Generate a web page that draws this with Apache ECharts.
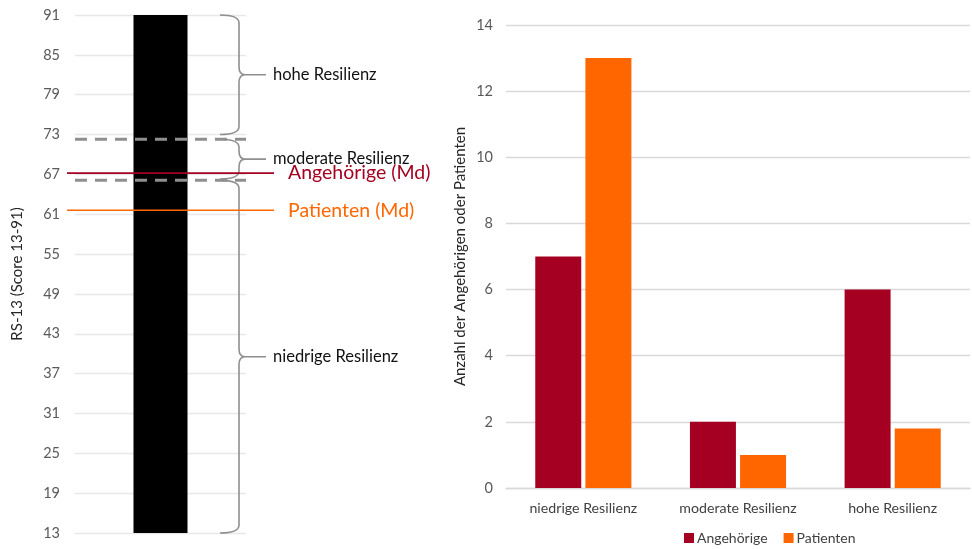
<!DOCTYPE html>
<html>
<head>
<meta charset="utf-8">
<script src="https://cdn.jsdelivr.net/npm/echarts@6/dist/echarts.min.js"></script>
<style>
  html, body { margin: 0; padding: 0; background: #fff; }
  #chart { width: 972px; height: 549px; }
</style>
</head>
<body>
<div id="chart"></div>
<script>
// RS-13 scale (left panel)
const scoreMin = 13;
const scoreMax = 91;
const scoreStep = 6;
const scoreBar = [91];

// resilience zones: label, upper and lower score of each brace
const zoneNames = ['hohe Resilienz', 'moderate Resilienz', 'niedrige Resilienz'];
const zoneUpper = [91, 72.3, 66.1];
const zoneLower = [73, 66.3, 13];

// dashed zone boundaries
const zoneBounds = [72.3, 66.1];

// group medians
const medianNames = ['Angehörige (Md)', 'Patienten (Md)'];
const medianValues = [67.2, 61.6];

// counts per resilience group (right panel)
const categories = ['niedrige Resilienz', 'moderate Resilienz', 'hohe Resilienz'];
const angehoerige = [7, 2, 6];
const patienten = [13, 1, 1.8];
const countMax = 14;
const countStep = 2;

const RED = '#A50021';
const ORANGE = '#FF6600';
const medianColors = [RED, ORANGE];
const FONT = 'Lato, "Open Sans", sans-serif';

const chart = echarts.init(document.getElementById('chart'));

function boundItem(params, api) {
  const cs = params.coordSys;
  const y = api.coord([0, api.value(1)])[1];
  return {
    type: 'line',
    shape: { x1: cs.x, y1: y, x2: cs.x + cs.width, y2: y },
    style: { stroke: '#8f8f8f', lineWidth: 3, lineDash: [12, 8] }
  };
}

function medianItem(params, api) {
  const cs = params.coordSys;
  const right = cs.x + cs.width;
  const y = api.coord([0, api.value(1)])[1];
  const c = medianColors[params.dataIndex];
  return {
    type: 'group',
    children: [
      {
        type: 'line',
        shape: { x1: cs.x - 8, y1: y, x2: right + 28, y2: y },
        style: { stroke: c, lineWidth: 1.7 }
      },
      {
        type: 'text',
        x: right + 42, y: y,
        style: {
          text: medianNames[params.dataIndex], fill: c,
          font: '19.5px ' + FONT, align: 'left', verticalAlign: 'middle'
        }
      }
    ]
  };
}

function braceItem(params, api) {
  const cs = params.coordSys;
  const right = cs.x + cs.width;
  const yTop = api.coord([0, api.value(1)])[1];
  const yBot = api.coord([0, api.value(2)])[1];
  const ym = (yTop + yBot) / 2;
  const x0 = right - 26;
  const xs = right - 7;
  const xt = right - 1;
  const r = Math.min(8, (yBot - yTop) / 4);
  const d =
    `M${x0},${yTop} Q${xs},${yTop} ${xs},${yTop + r} ` +
    `L${xs},${ym - r} Q${xs},${ym} ${xt},${ym} ` +
    `Q${xs},${ym} ${xs},${ym + r} ` +
    `L${xs},${yBot - r} Q${xs},${yBot} ${x0},${yBot} ` +
    `M${xt},${ym} L${right + 20},${ym}`;
  return {
    type: 'group',
    children: [
      {
        type: 'path',
        shape: { pathData: d },
        style: { stroke: '#8f8f8f', fill: null, lineWidth: 1.6 }
      },
      {
        type: 'text',
        x: right + 27, y: ym,
        style: {
          text: zoneNames[params.dataIndex], fill: '#111',
          font: '16.5px ' + FONT, align: 'left', verticalAlign: 'middle'
        }
      }
    ]
  };
}

const option = {
  animation: false,
  backgroundColor: '#fff',
  textStyle: { fontFamily: FONT },
  grid: [
    { left: 75, width: 171, top: 15, bottom: 16 },
    { left: 506, right: 2, top: 25, bottom: 61 }
  ],
  xAxis: [
    { gridIndex: 0, type: 'category', data: ['RS-13'], show: false },
    {
      gridIndex: 1, type: 'category', data: categories,
      axisLine: { lineStyle: { color: '#d9d9d9', width: 1.3 } },
      axisTick: { show: false },
      axisLabel: { color: '#404040', fontSize: 14.2, margin: 13, fontFamily: FONT }
    }
  ],
  yAxis: [
    {
      gridIndex: 0, type: 'value', min: scoreMin, max: scoreMax, interval: scoreStep,
      name: 'RS-13 (Score 13-91)', nameLocation: 'middle', nameGap: 50,
      nameTextStyle: { color: '#262626', fontSize: 15, fontFamily: FONT },
      axisLine: { show: false }, axisTick: { show: false },
      axisLabel: { color: '#595959', fontSize: 14.5, margin: 15, fontFamily: FONT },
      splitLine: { lineStyle: { color: '#e8e8e8', width: 1.3 } }
    },
    {
      gridIndex: 1, type: 'value', min: 0, max: countMax, interval: countStep,
      name: 'Anzahl der Angehörigen oder Patienten', nameLocation: 'middle', nameGap: 38,
      nameTextStyle: { color: '#262626', fontSize: 15, fontFamily: FONT },
      axisLine: { show: false }, axisTick: { show: false },
      axisLabel: { color: '#595959', fontSize: 14.5, margin: 13, fontFamily: FONT },
      splitLine: { lineStyle: { color: '#d9d9d9', width: 1.3 } }
    }
  ],
  legend: {
    data: ['Angehörige', 'Patienten'],
    left: 679, top: 526,
    icon: 'rect', itemWidth: 10, itemHeight: 10, itemGap: 16,
    textStyle: { color: '#404040', fontSize: 14, fontFamily: FONT, padding: [0, 0, 0, -2] }
  },
  series: [
    {
      type: 'bar', xAxisIndex: 0, yAxisIndex: 0,
      data: scoreBar, barWidth: 54, itemStyle: { color: '#000' }, z: 2
    },
    {
      type: 'custom', xAxisIndex: 0, yAxisIndex: 0, clip: false, z: 5,
      data: zoneNames.map((n, i) => [0, zoneUpper[i], zoneLower[i]]),
      renderItem: braceItem
    },
    {
      type: 'custom', xAxisIndex: 0, yAxisIndex: 0, clip: false, z: 6,
      data: zoneBounds.map(v => [0, v]),
      renderItem: boundItem
    },
    {
      type: 'custom', xAxisIndex: 0, yAxisIndex: 0, clip: false, z: 7,
      data: medianValues.map(v => [0, v]),
      renderItem: medianItem
    },
    {
      name: 'Angehörige', type: 'bar', xAxisIndex: 1, yAxisIndex: 1,
      data: angehoerige, barWidth: 46, barGap: '9%', itemStyle: { color: RED }
    },
    {
      name: 'Patienten', type: 'bar', xAxisIndex: 1, yAxisIndex: 1,
      data: patienten, barWidth: 46, barGap: '9%', itemStyle: { color: ORANGE }
    }
  ]
};

chart.setOption(option);
</script>
</body>
</html>
